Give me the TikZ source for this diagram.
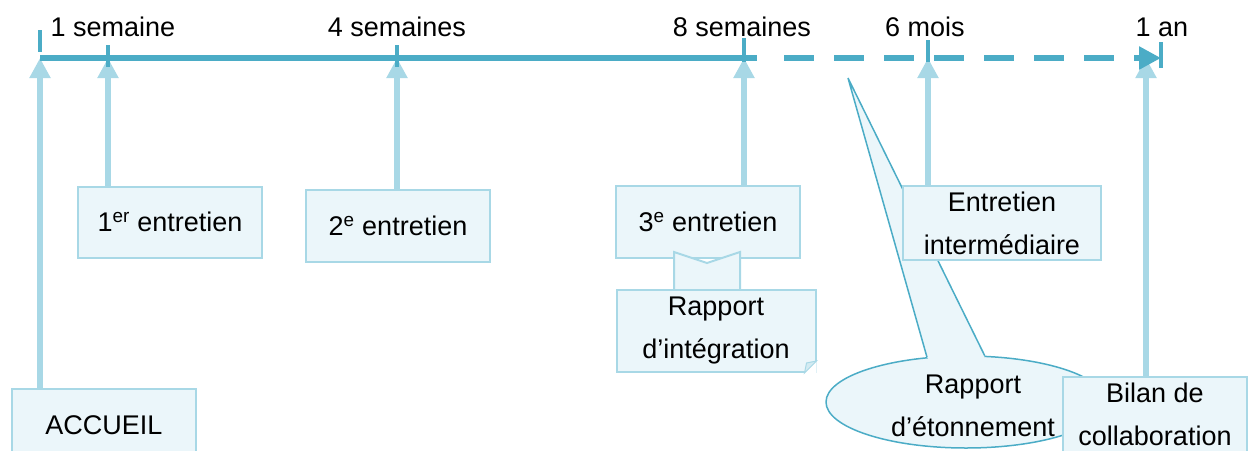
\documentclass[tikz,border=0pt]{standalone}
\usepackage{fontspec}
\setmainfont{Liberation Sans}
\usetikzlibrary{positioning, shapes, arrows.meta}
\definecolor{bleufonce}{HTML}{4BACC6}
\definecolor{bleuclair}{HTML}{A8D8E6}
\definecolor{fondbleu}{HTML}{EBF6FA}

\begin{document}
\begin{tikzpicture}[x=1pt, y=-1pt,
  every node/.style={font=\fontsize{27}{43}\selectfont},
  boite/.style={rectangle, draw=bleuclair, fill=fondbleu, line width=2pt, minimum width=184pt, minimum height=72pt, align=center, inner sep=0pt},
  fleche/.style={draw=bleuclair, line width=6pt, -{Triangle[width=20pt,length=20pt]}},
  axe/.style={draw=bleufonce, line width=6pt},
  trait/.style={draw=bleufonce, line width=4pt}]
	\useasboundingbox (0,0) rectangle (1253,450);

	% Repères sur l'axe du temps
	\coordinate (t0) at (40,58);
	\coordinate (w1) at (108,58);
	\coordinate (w4) at (397,58);
	\coordinate (w8) at (744,58);
	\coordinate (s8) at (757,58);
	\coordinate (d0) at (784,58);
	\coordinate (m6) at (928,58);
	\coordinate (fin) at (1146,58);
	\coordinate (an) at (1161,58);
	\coordinate (bulle) at (848,78);

	% Bulle RAPPORT D'ETONNEMENT
	\node[ellipse, draw=bleufonce, fill=fondbleu, line width=1.5pt, minimum width=280pt, minimum height=92pt] (etonnement) at (966,402) {};
	\fill[fondbleu] (bulle) -- (etonnement.131) -- (etonnement.center) -- (etonnement.68) -- cycle;
	\draw[bleufonce, line width=1.5pt] (etonnement.131) -- (bulle) -- (etonnement.68);
	\node[align=center] (etonnementtxt) at (973,406) {Rapport\\d’étonnement};

	% Entretiens
	\node[boite] (accueil) at (104,425) {ACCUEIL};
	\node[boite, minimum height=71pt] (premier) at (170,222) {1\textsuperscript{er} entretien};
	\node[boite] (deuxieme) at (398,226) {2\textsuperscript{e} entretien};
	\node[boite] (troisieme) at (708,222) {3\textsuperscript{e} entretien};
	\filldraw[draw=bleuclair, fill=fondbleu, line width=2pt] (674,252) -- (707,263) -- (740,252) -- (740,292) -- (707,302) -- (674,292) -- cycle;
	\node[boite, minimum width=199pt, minimum height=82pt] (integration) at (716,331) {Rapport\\d’intégration};
	\fill[white] (integration.south east) -- ([xshift=-12pt]integration.south east) -- ([yshift=12pt]integration.south east) -- cycle;
	\filldraw[draw=bleuclair, fill=bleuclair!50, line width=1pt] ([xshift=-12pt]integration.south east) -- ([yshift=12pt]integration.south east) -- ([xshift=-10pt,yshift=10pt]integration.south east) -- cycle;
	\node[boite, minimum width=198pt, minimum height=74pt] (intermediaire) at (1002,223) {Entretien\\intermédiaire};
	\node[boite, minimum height=75pt] (bilan) at (1155,414) {Bilan de\\collaboration};

	% Flèches vers l'axe
	\draw[fleche] (accueil.north -| t0) -- (t0);
	\draw[fleche] (premier.north -| w1) -- (w1);
	\draw[fleche] (deuxieme.north -| w4) -- (w4);
	\draw[fleche] (troisieme.north -| w8) -- (w8);
	\draw[fleche] (intermediaire.north -| m6) -- (m6);
	\draw[fleche] (bilan.north -| fin) -- (fin);

	% Axe du temps
	\draw[axe] (t0) -- (s8);
	\draw[axe, dash pattern=on 30pt off 20pt, -{Triangle[width=22pt,length=22pt]}] (d0) -- (an);
	\draw[trait] (t0) ++(0,-28) -- ++(0,22);
	\draw[trait] (w1) ++(0,-13) -- ++(0,22);
	\draw[trait] (w4) ++(0,-13) -- ++(0,22);
	\draw[trait] (w8) ++(0,-20) -- ++(0,24);
	\draw[trait] (m6) ++(0,-18) -- ++(0,22);
	\draw[trait] (an) ++(0,-16) -- ++(0,26);

	% Durées
	\node[anchor=base west] (sem1) at (47,36) {1 semaine};
	\node[anchor=base] (sem4) at (397,36) {4 semaines};
	\node[anchor=base] (sem8) at (742,36) {8 semaines};
	\node[anchor=base] (mois6) at (925,36) {6 mois};
	\node[anchor=base] (an1) at (1162,36) {1 an};
\end{tikzpicture}
\end{document}
